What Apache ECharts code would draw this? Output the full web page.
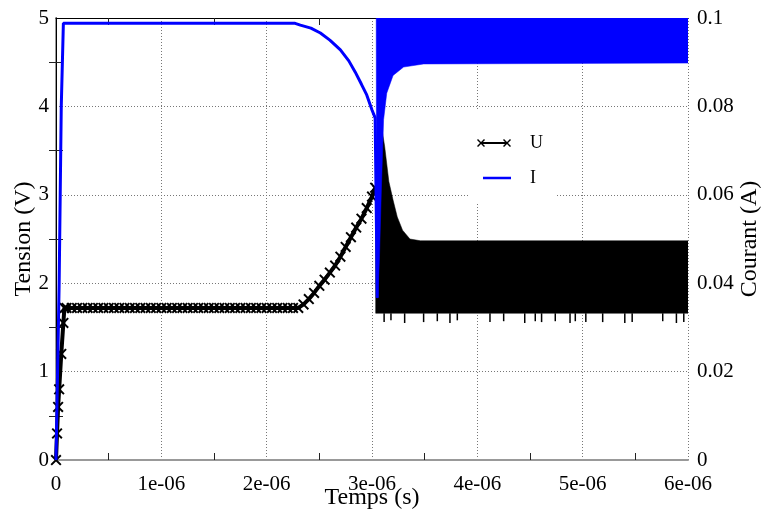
<!DOCTYPE html>
<html>
<head>
<meta charset="utf-8">
<script src="https://cdn.jsdelivr.net/npm/echarts@6/dist/echarts.min.js"></script>
<style>html,body{margin:0;padding:0;background:#fff}#c{width:766px;height:512px}</style>
</head>
<body>
<div id="c"></div>
<script>
// ---- data (time in microseconds, converted to seconds below) ----
const xTickLabels = ['0','1e-06','2e-06','3e-06','4e-06','5e-06','6e-06'];

// U (V): charge then rise
const tU_us = [0,0.01,0.02,0.03,0.05,0.07,0.08,
  0.10,0.15,0.20,0.25,0.30,0.35,0.40,0.45,0.50,0.55,0.60,0.65,0.70,0.75,0.80,0.85,0.90,0.95,
  1.00,1.05,1.10,1.15,1.20,1.25,1.30,1.35,1.40,1.45,1.50,1.55,1.60,1.65,1.70,1.75,1.80,1.85,1.90,1.95,
  2.00,2.05,2.10,2.15,2.20,2.25,2.30,
  2.35,2.40,2.45,2.50,2.55,2.60,2.65,2.70,2.75,2.80,2.85,2.90,2.95,3.00,3.03];
const vU = [0,0.3,0.6,0.8,1.2,1.55,1.72,
  1.72,1.72,1.72,1.72,1.72,1.72,1.72,1.72,1.72,1.72,1.72,1.72,1.72,1.72,1.72,1.72,1.72,1.72,
  1.72,1.72,1.72,1.72,1.72,1.72,1.72,1.72,1.72,1.72,1.72,1.72,1.72,1.72,1.72,1.72,1.72,1.72,1.72,1.72,
  1.72,1.72,1.72,1.72,1.72,1.72,1.72,
  1.76,1.82,1.89,1.97,2.04,2.12,2.20,2.30,2.41,2.52,2.63,2.73,2.85,2.98,3.08];

// U oscillation envelope (upper and lower edges)
const uTopT_us = [3.035,3.045,3.06,3.08,3.10,3.12,3.16,3.20,3.24,3.29,3.36,3.46,6.00];
const uTopV    = [3.30,3.55,3.70,3.76,3.70,3.55,3.15,2.94,2.75,2.60,2.50,2.48,2.48];
const uLowT_us = [3.035,6.00];
const uLowV    = [1.66,1.66];
// downward spikes of U below the lower envelope
const uSpikeT_us = [3.115,3.18,3.31,3.49,3.62,3.74,3.81,4.12,4.25,4.45,4.55,4.61,4.74,4.88,4.93,5.03,5.19,5.40,5.47,5.76,5.89,5.96];
const uSpikeV    = [1.56,1.58,1.55,1.56,1.57,1.55,1.58,1.56,1.57,1.55,1.57,1.56,1.57,1.55,1.57,1.56,1.56,1.55,1.56,1.57,1.55,1.56];

// I (A)
const tI_us = [0,0.03,0.04,0.05,0.07,2.27,2.32,2.42,2.51,2.60,2.70,2.78,2.84,2.90,2.95,3.00,3.03,3.05];
const vI    = [0,0.040,0.060,0.080,0.0988,0.0988,0.0984,0.0977,0.0966,0.0950,0.0928,0.0903,0.0878,0.0850,0.0826,0.0792,0.0774,0.0367];

// I oscillation envelope
const iTopT_us = [3.04,6.00];
const iTopV    = [0.1,0.1];
const iLowT_us = [3.045,3.055,3.07,3.09,3.11,3.14,3.20,3.30,3.49,6.00];
const iLowV    = [0.0367,0.0367,0.045,0.062,0.077,0.083,0.087,0.0889,0.0896,0.0898];

// ---- build ----
const S = 1e-6;
const pairs = (ts, vs) => ts.map((t, i) => [t * S, vs[i]]);
const uLine = pairs(tU_us, vU);
const iLine = pairs(tI_us, vI);
const uPoly = pairs(uTopT_us, uTopV).concat(pairs(uLowT_us, uLowV).reverse());
const iPoly = pairs(iTopT_us, iTopV).concat(pairs(iLowT_us, iLowV).reverse());
const uSpikes = pairs(uSpikeT_us, uSpikeV);
const uBase = uLowV[0];

const FONT = 'Liberation Serif';
const crossPath = 'path://M0,1L1,0L4,3L7,0L8,1L5,4L8,7L7,8L4,5L1,8L0,7L3,4Z';
const legendU = 'path://M0,2L1,1L4,4L7,1L8,2L5,5L8,8L7,9L4,6L1,9L0,8L3,5Z M5.5,4H28.5V6H5.5Z M26,2L27,1L30,4L33,1L34,2L31,5L34,8L33,9L30,6L27,9L26,8L29,5Z';
const legendI = 'path://M0,0L0.01,0L0,0.01Z M6,3.8H34V6.2H6Z M34,10L33.99,10L34,9.99Z';

function polyRender(poly, color) {
  return function (params, api) {
    if (params.dataIndex !== 0) return null;
    const pts = poly.map(p => api.coord(p));
    return { type: 'polygon', shape: { points: pts }, style: { fill: color, stroke: color, lineWidth: 0.5 } };
  };
}

const grid = { left: 56, right: 78, top: 18, bottom: 52, containLabel: false, outerBoundsMode: 'none' };
const minorTick = { show: true, splitNumber: 2, length: 7, lineStyle: { color: '#222', width: 1 } };
const gridLine = { show: true, lineStyle: { color: '#777', type: [1, 2], width: 1 } };

const chart = echarts.init(document.getElementById('c'), null, { renderer: 'canvas' });
chart.setOption({
  animation: false,
  backgroundColor: '#fff',
  grid: grid,
  legend: {
    orient: 'vertical', left: 468, top: 110,
    backgroundColor: '#fff',
    padding: [24, 14, 16, 9],
    itemWidth: 34, itemHeight: 10, itemGap: 17,
    textStyle: { fontFamily: FONT, fontSize: 18, color: '#000', lineHeight: 18, padding: [0, 0, 0, 14] },
    data: [{ name: 'U', icon: legendU }, { name: 'I', icon: legendI }]
  },
  xAxis: [{
    type: 'value', min: 0, max: 6e-6, interval: 1e-6,
    axisLine: { show: true, lineStyle: { color: '#999', width: 2 } },
    axisTick: { show: false, inside: true },
    minorTick: minorTick,
    splitLine: gridLine,
    axisLabel: { fontFamily: FONT, fontSize: 21, color: '#000', margin: 14,
      formatter: v => xTickLabels[Math.round(v / S)] },
    name: 'Temps (s)', nameLocation: 'middle', nameGap: 26, nameMoveOverlap: false,
    nameTextStyle: { fontFamily: FONT, fontSize: 24, color: '#000' }
  }, {
    type: 'value', min: 0, max: 6e-6, interval: 1e-6, position: 'top',
    axisLine: { show: true, onZero: false, lineStyle: { color: '#000', width: 1 } },
    axisTick: { show: false, inside: true },
    minorTick: minorTick,
    splitLine: { show: false },
    axisLabel: { show: false }
  }],
  yAxis: [{
    type: 'value', min: 0, max: 5, interval: 1,
    axisLine: { show: true, lineStyle: { color: '#999', width: 2 } },
    axisTick: { show: false, inside: true },
    minorTick: minorTick,
    splitLine: gridLine,
    axisLabel: { fontFamily: FONT, fontSize: 21, color: '#000', margin: 7 },
    name: 'Tension (V)', nameLocation: 'middle', nameGap: 20, nameRotate: 90, nameMoveOverlap: false,
    nameTextStyle: { fontFamily: FONT, fontSize: 24, color: '#000' }
  }, {
    type: 'value', min: 0, max: 0.1, interval: 0.02, position: 'right',
    axisLine: { show: true, lineStyle: { color: '#000', width: 1 } },
    axisTick: { show: false, inside: true },
    minorTick: minorTick,
    splitLine: { show: false },
    axisLabel: { fontFamily: FONT, fontSize: 21, color: '#000', margin: 9,
      formatter: v => String(+v.toFixed(2)) },
    name: 'Courant (A)', nameLocation: 'middle', nameGap: 50, nameRotate: 90, nameMoveOverlap: false,
    nameTextStyle: { fontFamily: FONT, fontSize: 24, color: '#000' }
  }],
  series: [
    { name: 'Ub', type: 'custom', xAxisIndex: 0, yAxisIndex: 0, clip: true, z: 2,
      renderItem: polyRender(uPoly, '#000'), data: uPoly, encode: { x: 0, y: 1 } },
    { name: 'Us', type: 'custom', xAxisIndex: 0, yAxisIndex: 0, clip: true, z: 2,
      renderItem: function (params, api) {
        const a = api.coord([api.value(0), uBase]);
        const b = api.coord([api.value(0), api.value(1)]);
        return { type: 'line', shape: { x1: a[0], y1: a[1], x2: b[0], y2: b[1] }, style: { stroke: '#000', lineWidth: 1.5 } };
      }, data: uSpikes, encode: { x: 0, y: 1 } },
    { name: 'U', type: 'line', xAxisIndex: 0, yAxisIndex: 0, z: 3, data: uLine,
      symbol: crossPath, symbolSize: 11, showSymbol: true,
      itemStyle: { color: '#000' }, lineStyle: { color: '#000', width: 4 } },
    { name: 'I', type: 'line', xAxisIndex: 0, yAxisIndex: 1, z: 4, data: iLine,
      symbol: 'none', itemStyle: { color: '#0000ff' }, lineStyle: { color: '#0000ff', width: 3 } },
    { name: 'Ib', type: 'custom', xAxisIndex: 0, yAxisIndex: 1, clip: true, z: 4,
      renderItem: polyRender(iPoly, '#0000ff'), data: iPoly, encode: { x: 0, y: 1 } }
  ]
});
</script>
</body>
</html>
